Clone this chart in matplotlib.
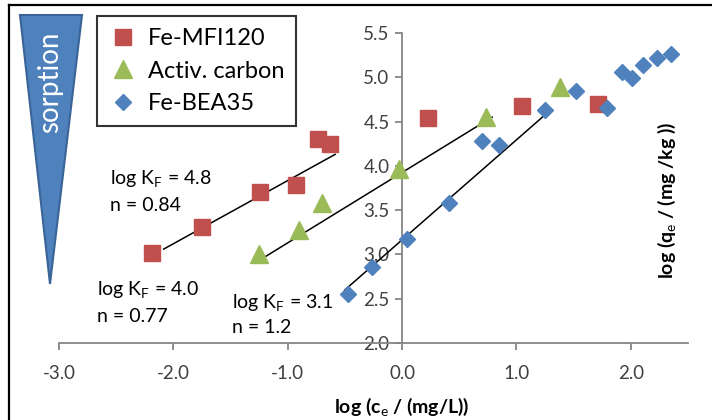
import matplotlib
matplotlib.use("Agg")
import matplotlib.pyplot as plt
from matplotlib.patches import Polygon
from matplotlib.lines import Line2D

plt.rcParams['font.family'] = ['Lato', 'DejaVu Sans']
plt.rcParams['mathtext.fontset'] = 'custom'
plt.rcParams['mathtext.rm'] = 'Lato'
plt.rcParams['mathtext.it'] = 'Lato:italic'
plt.rcParams['mathtext.bf'] = 'Lato:bold'

# ---------------- data ----------------
mfi_x = [-2.19, -1.75, -1.24, -0.93, -0.735, -0.63, 0.23, 1.05, 1.71]
mfi_y = [3.02, 3.31, 3.71, 3.78, 4.30, 4.25, 4.54, 4.68, 4.70]

ac_x = [-1.25, -0.905, -0.70, -0.03, 0.73, 1.38]
ac_y = [3.00, 3.28, 3.58, 3.97, 4.55, 4.89]

bea_x = [-0.47, -0.26, 0.04, 0.41, 0.70, 0.85, 1.25, 1.52, 1.79, 1.92, 2.01, 2.11, 2.23, 2.35]
bea_y = [2.55, 2.86, 3.17, 3.58, 4.28, 4.23, 4.63, 4.84, 4.65, 5.06, 4.99, 5.14, 5.22, 5.26]

# Freundlich fit lines (end points)
fit_mfi_x = [-2.085, -0.585]
fit_mfi_y = [3.06, 4.13]
fit_ac_x = [-1.24, 0.787]
fit_ac_y = [2.94, 4.55]
fit_bea_x = [-0.50, 1.28]
fit_bea_y = [2.60, 4.61]

series_labels = ["Fe-MFI120", "Activ. carbon", "Fe-BEA35"]
xticks = [-3.0, -2.0, -1.0, 0.0, 1.0, 2.0]
yticks = [2.0, 2.5, 3.0, 3.5, 4.0, 4.5, 5.0, 5.5]

RED = '#C0504D'
GREEN = '#9BBB59'
BLUE = '#4F81BD'
GREY = '#868686'

W, H = 712, 420
fig = plt.figure(figsize=(W / 100, H / 100), dpi=100)
ax = fig.add_axes([59 / W, 77 / H, 629 / W, 310 / H])

ax.plot(fit_mfi_x, fit_mfi_y, color='black', lw=1.1, zorder=2)
ax.plot(fit_ac_x, fit_ac_y, color='black', lw=1.1, zorder=2)
ax.plot(fit_bea_x, fit_bea_y, color='black', lw=1.1, zorder=2)

ax.plot(mfi_x, mfi_y, 's', color=RED, ms=12, mec=RED, ls='none', label=series_labels[0], zorder=3)
ax.plot(ac_x, ac_y, '^', color=GREEN, ms=13, mec=GREEN, ls='none', label=series_labels[1], zorder=3)
ax.plot(bea_x, bea_y, 'D', color=BLUE, ms=8.5, mec=BLUE, ls='none', label=series_labels[2], zorder=3)

ax.set_xlim(-3.0, 2.5)
ax.set_ylim(2.0, 5.5)
ax.set_xticks(xticks)
ax.set_yticks(yticks)
ax.set_xticklabels([f"{v:.1f}" for v in xticks])
ax.set_yticklabels([f"{v:.1f}" for v in yticks])

for s in ['top', 'right']:
    ax.spines[s].set_visible(False)
ax.spines['left'].set_position(('data', 0.0))
for s in ['left', 'bottom']:
    ax.spines[s].set_color(GREY)
    ax.spines[s].set_linewidth(1.3)
ax.tick_params(axis='both', colors=GREY, direction='out', length=5, width=1.3, labelsize=13.5,
               labelcolor='#404040')
ax.tick_params(axis='x', pad=11)
ax.tick_params(axis='y', pad=4)

# legend
leg = ax.legend(loc='upper left', bbox_to_anchor=(97 / W, 1 - 16 / H), bbox_transform=fig.transFigure,
                fontsize=17, frameon=True, fancybox=False, borderaxespad=0, handletextpad=0.45,
                labelspacing=0.5, borderpad=0.5, handlelength=1.2, markerscale=1.0)
leg.get_frame().set_edgecolor('black')
leg.get_frame().set_linewidth(1.5)

# annotations
ax.text(-2.55, 3.86, r"log K$_{\mathrm{F}}$ = 4.8", fontsize=14, va='center', ha='left')
ax.text(-2.55, 3.55, "n = 0.84", fontsize=14, va='center', ha='left')
ax.text(-2.67, 2.60, r"log K$_{\mathrm{F}}$ = 4.0", fontsize=14, va='center', ha='left')
ax.text(-2.67, 2.30, "n = 0.77", fontsize=14, va='center', ha='left')
ax.text(-1.49, 2.46, r"log K$_{\mathrm{F}}$ = 3.1", fontsize=14, va='center', ha='left')
ax.text(-1.49, 2.17, "n = 1.2", fontsize=14, va='center', ha='left')

# axis labels
fig.text(401.5 / W, 1 - 407 / H, r"log (c$_{\mathrm{e}}$ / (mg/L))", fontsize=14, fontweight='bold',
         ha='center', va='center')
fig.text(667 / W, 1 - 200 / H, r"log (q$_{\mathrm{e}}$ / (mg /kg ))", fontsize=14, fontweight='bold',
         ha='center', va='center', rotation=90)

# sorption wedge
tri = Polygon([(20 / W, 1 - 15 / H), (82 / W, 1 - 15 / H), (50 / W, 1 - 284 / H)], closed=True,
              transform=fig.transFigure, facecolor=BLUE, edgecolor='#3A6496', lw=1.5, zorder=5)
fig.add_artist(tri)
fig.text(50 / W, 1 - 82 / H, "sorption", color='white', fontsize=20, rotation=90,
         ha='center', va='center', zorder=6)

# outer frame (partially visible)
fig.add_artist(Line2D([8.5 / W, 8.5 / W], [0, 1 - 5 / H], transform=fig.transFigure, color='black', lw=1.6))
fig.add_artist(Line2D([8.5 / W, 1], [1 - 5 / H, 1 - 5 / H], transform=fig.transFigure, color='black', lw=1.6))

fig.savefig("out.png", dpi=100)
